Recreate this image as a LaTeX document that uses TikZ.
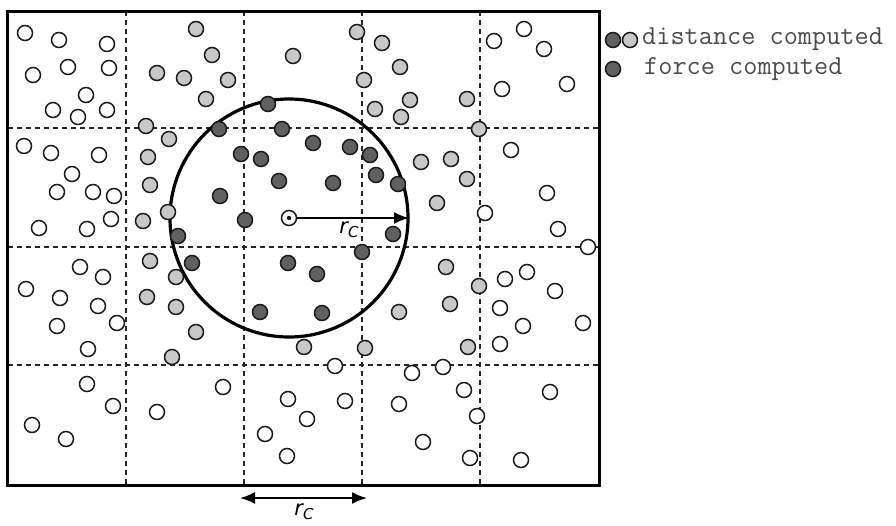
\documentclass[tikz,border=0pt]{standalone}
\usepackage{fontspec}
\newfontfamily\dejavu{DejaVu Sans}
\usetikzlibrary{arrows.meta}
\definecolor{outl}{HTML}{1A1A1A}
\definecolor{greyfill}{HTML}{C8C8C8}
\definecolor{darkfill}{HTML}{606060}
\tikzset{
  part/.style={circle, draw=outl, line width=1.5pt, minimum size=15pt, inner sep=0pt},
  wp/.style={part, fill=white},
  gp/.style={part, fill=greyfill},
  dp/.style={part, fill=darkfill},
  gridline/.style={line width=1.5pt, dash pattern=on 5pt off 4pt, black!85},
  arr/.style={line width=2pt, -{Latex[length=15pt,width=12pt]}},
  dblarr/.style={line width=2pt, {Latex[length=15pt,width=12pt]}-{Latex[length=15pt,width=12pt]}},
  legtext/.style={anchor=west, inner sep=0pt, font=\ttfamily\fontsize{27.5}{27.5}\selectfont, text=black!70},
}
\newcommand{\rclabel}{{\dejavu\itshape\fontsize{21}{21}\selectfont r\raisebox{-0.35ex}{\fontsize{15}{15}\selectfont C}}}
\begin{document}
\begin{tikzpicture}[x=1pt,y=-1pt]
\useasboundingbox (0,0) rectangle (896,525);
% grid
\foreach \x in {126,244,362,480} \draw[gridline] (\x,11) -- (\x,485);
\foreach \y in {128,247,365} \draw[gridline] (7.5,\y) -- (599,\y);
% frame
\draw[line width=3pt] (7.5,11) rectangle (599,485);
% cutoff circle
\coordinate (cc) at (289,218);
\draw[line width=3.2pt] (cc) circle[radius=119pt];
% white particles
\foreach \p [count=\i] in {(25,33),(59,40),(107,44),(33,75),(68,67),(109,68),(86,95),(53,110),(78,117),(107,110),
(24,146),(51,153),(99,155),(72,174),(57,192),(93,192),(114,196),(111,219),(39,228),(87,229),
(494,41),(524,29),(544,49),(502,89),(567,84),(511,150),(547,193),(485,213),(558,229),(588,247),
(80,267),(103,277),(26,289),(60,298),(98,306),(57,326),(117,323),(88,349),(87,384),(113,406),(157,412),(32,425),(66,439),
(335,366),(223,387),(288,399),(345,401),(307,419),(265,434),(287,456),(399,404),(412,373),
(505,279),(527,272),(555,291),(500,308),(523,326),(583,323),(500,344),(443,367),(464,390),(550,392),(477,416),(423,442),(470,458),(521,460)}
  \node[wp] (w\i) at \p {};
% grey particles
\foreach \p [count=\i] in {(196,29),(212,55),(157,73),(184,78),(228,80),(206,99),(146,126),(169,139),(148,157),(150,185),(168,212),(143,221),
(293,56),(357,32),(382,43),(400,67),(364,80),(375,109),(401,117),(410,100),(467,99),(479,129),(421,162),(451,159),(467,179),(437,203),
(150,261),(176,277),(147,297),(176,307),(196,332),(172,357),
(304,347),(365,348),(399,312),
(446,267),(479,286),(450,304),(468,347)}
  \node[gp] (g\i) at \p {};
% dark particles
\foreach \p [count=\i] in {(178,236),(268,104),(219,129),(282,129),(313,143),(350,147),(370,155),(241,154),(261,159),(376,175),(279,181),(333,183),(398,184),(220,196),(245,220),(393,234),(362,252),(192,263),(288,263),(317,274),(260,312),(322,313)}
  \node[dp] (d\i) at \p {};
% central particle
\node[wp] (c) at (cc) {};
\fill[outl] (c.center) circle[radius=2.2pt];
\coordinate (ce) at (409,218);
\draw[arr] (c) -- (ce);
\node (rc1) at (349,230) {\rclabel};
% bottom scale arrow
\coordinate (b1) at (240,498);
\coordinate (b2) at (367,498);
\draw[dblarr] (b1) -- (b2);
\node (rc2) at (304,512) {\rclabel};
% legend
\node[dp] (l1) at (613,40) {};
\node[gp] (l2) at (630,40) {};
\node[dp] (l3) at (613,69) {};
\node[legtext] (t1) at (642,39) {distance computed};
\node[legtext] (t2) at (644,69) {force computed};
\end{tikzpicture}
\end{document}
